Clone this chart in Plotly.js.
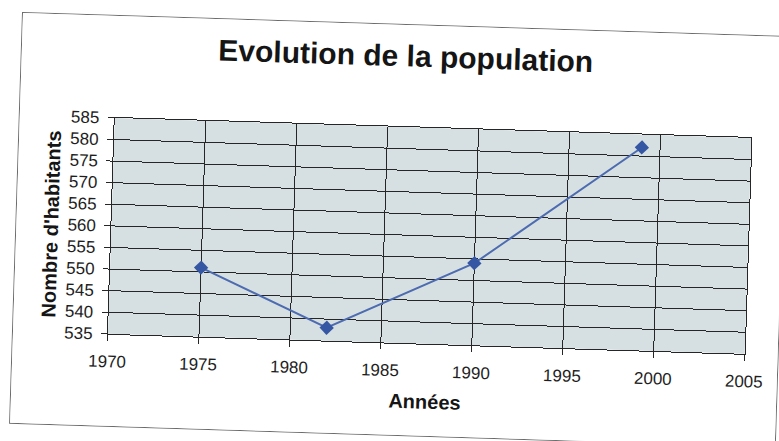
<!DOCTYPE html>
<html>
<head>
<meta charset="utf-8">
<script src="https://cdn.plot.ly/plotly-3.0.1.min.js"></script>
<style>
  html, body { margin: 0; padding: 0; background: #ffffff; width: 779px; height: 441px; overflow: hidden; }
  #frame {
    position: absolute; left: 23px; top: 13px; width: 765px; height: 410px;
    transform-origin: 0 0; transform: rotate(1.8deg);
    outline: 1px solid #6a6a6a; background: #ffffff;
  }
  #chart { width: 765px; height: 410px; }
</style>
</head>
<body>
<div id="frame"><div id="chart"></div></div>
<script>
// Data
var years = [1975, 1982, 1990, 1999];
var habitants = [551, 538, 554, 582];
var chartTitle = "Evolution de la population";
var xTitle = "Années";
var yTitle = "Nombre d'habitants";

var trace = {
  x: years,
  y: habitants,
  type: 'scatter',
  mode: 'lines+markers',
  line: { color: '#4c6bb0', width: 2 },
  marker: { symbol: 'diamond', size: 11, color: '#3556a3' },
  hoverinfo: 'x+y'
};

var font = 'Liberation Sans, Arial, Helvetica, sans-serif';

var layout = {
  width: 765,
  height: 410,
  margin: { l: 95, r: 33, t: 102, b: 92 },
  paper_bgcolor: '#ffffff',
  plot_bgcolor: '#d6dfe1',
  showlegend: false,
  title: {
    text: chartTitle,
    font: { family: font, size: 30, color: '#151515', weight: 'bold' },
    xref: 'container', x: 0.502, xanchor: 'center',
    yref: 'container', y: 0.925, yanchor: 'middle'
  },
  xaxis: {
    range: [1970, 2005],
    dtick: 5, tick0: 1970,
    showgrid: true, gridcolor: '#262626', gridwidth: 1,
    zeroline: false,
    showline: true, linecolor: '#262626', linewidth: 1, mirror: true,
    ticks: 'outside', ticklen: 6, tickcolor: '#262626',
    tickfont: { family: font, size: 17, color: '#1e1e1e' },
    ticklabelstandoff: 6,
    title: { text: xTitle, font: { family: font, size: 20, color: '#151515', weight: 'bold' }, standoff: 14 }
  },
  yaxis: {
    range: [535, 585],
    dtick: 5, tick0: 535,
    showgrid: true, gridcolor: '#262626', gridwidth: 1,
    zeroline: false,
    showline: true, linecolor: '#262626', linewidth: 1, mirror: true,
    ticks: 'outside', ticklen: 6, tickcolor: '#262626',
    tickfont: { family: font, size: 17, color: '#1e1e1e' },
    ticklabelstandoff: 5,
    title: { text: yTitle, font: { family: font, size: 20, color: '#151515', weight: 'bold' }, standoff: 3 }
  }
};

Plotly.newPlot('chart', [trace], layout, { displayModeBar: false, staticPlot: true });
</script>
</body>
</html>
